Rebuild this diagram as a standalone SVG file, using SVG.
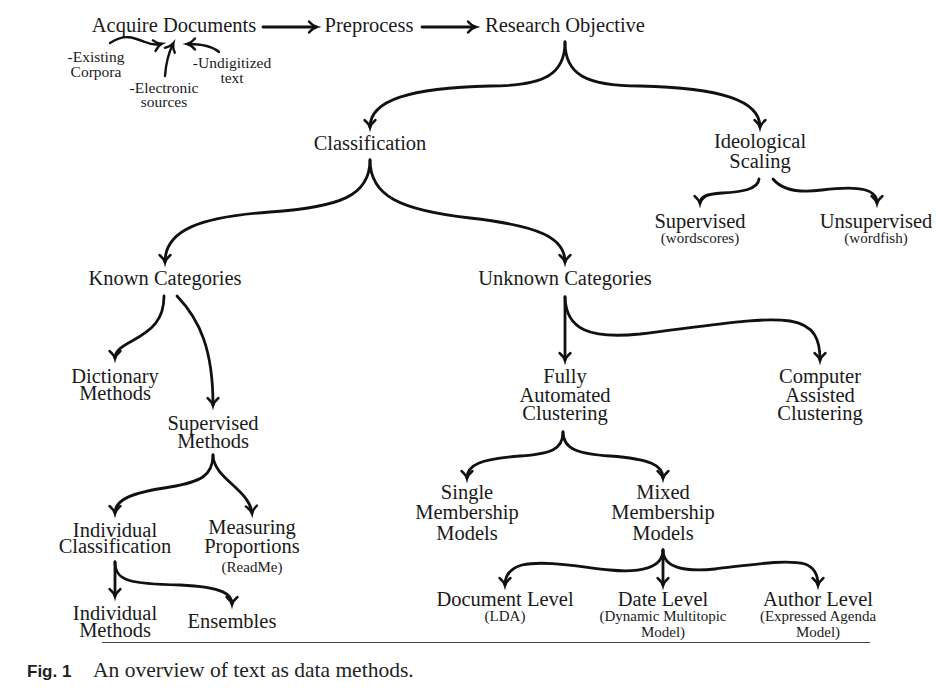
<svg xmlns="http://www.w3.org/2000/svg" width="936" height="700" viewBox="0 0 936 700">
<style>
.t{font-family:"Liberation Serif","Times New Roman",serif;font-size:20.5px;fill:#1a1a1a;text-anchor:middle}
.s{font-family:"Liberation Serif","Times New Roman",serif;font-size:15px;fill:#1a1a1a;text-anchor:middle}
.c{fill:none;stroke:#111;stroke-width:2.8;stroke-linecap:round;marker-end:url(#ah)}
.c2{fill:none;stroke:#111;stroke-width:2.4;stroke-linecap:round;marker-end:url(#ah)}
</style>
<defs>
<marker id="ah" markerUnits="userSpaceOnUse" markerWidth="16" markerHeight="16" viewBox="-10 -8 14 16" refX="0" refY="0" orient="auto" overflow="visible">
<path d="M-7,-5.5 C-4,-2 -1.5,-0.6 0.8,0 C-1.5,0.6 -4,2 -7,5.5" fill="none" stroke="#111" stroke-width="2.4" stroke-linecap="round"/>
</marker>
</defs>
<rect width="936" height="700" fill="#fff"/>
<g id="connectors">
<path class="c" d="M263,27 H316"/>
<path class="c" d="M422,27 H475"/>
<path class="c2" d="M110,43 C125,33 135,38 145,42 C152,45 157,45 161,44"/>
<path class="c2" d="M165,76 C166,62 169,52 173,44"/>
<path class="c2" d="M219,52 C212,46 200,44 188,44"/>
<path class="c" d="M565,42 C565,74 545,86 490,86 C410,88 370,100 370,127"/>
<path class="c" d="M565,42 C565,74 585,86 640,86 C720,88 760,100 760,127"/>
<path class="c" d="M370,160 C370,196 340,207 270,212 C200,217 165,230 165,262"/>
<path class="c" d="M370,160 C370,196 400,210 470,218 C540,226 565,238 565,262"/>
<path class="c" d="M759,179 C758,190 740,192 722,193 C706,194 700,197 700,203"/>
<path class="c" d="M773,179 C782,190 800,193 822,190 C862,185 877,190 877,203"/>
<path class="c" d="M164,296 C164,320 152,330 132,341 C119,348 115,352 115,358"/>
<path class="c" d="M177,296 C200,320 213,350 213,405"/>
<path class="c" d="M213,455 C213,476 200,482 170,487 C130,493 115,500 115,513"/>
<path class="c" d="M213,455 C213,478 250,490 252,513"/>
<path class="c" d="M115,562 V596"/>
<path class="c" d="M115,562 C115,581 130,584 180,585 C225,587 232,595 232,604"/>
<path class="c" d="M565,297 V360"/>
<path class="c" d="M565,297 C566,330 590,339 640,334 C720,324 760,317 790,321 C815,325 820,340 820,360"/>
<path class="c" d="M563,432 C563,450 550,454 520,456 C480,459 467,465 467,478"/>
<path class="c" d="M563,432 C563,450 580,454 610,456 C650,459 663,465 663,478"/>
<path class="c" d="M663,550 C663,568 640,573 610,570 C580,567 545,560 522,565 C508,569 505,577 505,585"/>
<path class="c" d="M663,550 V585"/>
<path class="c" d="M663,550 C663,568 685,572 715,569 C750,565 785,559 805,564 C816,568 818,577 818,585"/>
</g>
<g id="acquire"><text class="t" x="174" y="32">Acquire Documents</text></g>
<g id="existing"><text class="s" x="96" y="62" style="font-size:15.5px">-Existing</text><text class="s" x="96" y="77" style="font-size:15.5px">Corpora</text></g>
<g id="electronic"><text class="s" x="164" y="93" style="font-size:15.5px">-Electronic</text><text class="s" x="164" y="107" style="font-size:15.5px">sources</text></g>
<g id="undigitized"><text class="s" x="232" y="68" style="font-size:15.5px">-Undigitized</text><text class="s" x="232" y="83" style="font-size:15.5px">text</text></g>
<g id="preprocess"><text class="t" x="369" y="32">Preprocess</text></g>
<g id="research"><text class="t" x="565" y="32">Research Objective</text></g>
<g id="classification"><text class="t" x="370" y="150">Classification</text></g>
<g id="ideological"><text class="t" x="760" y="148">Ideological</text><text class="t" x="760" y="168">Scaling</text></g>
<g id="supervised-scaling"><text class="t" x="700" y="228">Supervised</text><text class="s" x="700" y="243">(wordscores)</text></g>
<g id="unsupervised"><text class="t" x="876" y="228">Unsupervised</text><text class="s" x="876" y="243">(wordfish)</text></g>
<g id="known"><text class="t" x="165" y="285">Known Categories</text></g>
<g id="unknown"><text class="t" x="565" y="285">Unknown Categories</text></g>
<g id="dictionary"><text class="t" x="115" y="383">Dictionary</text><text class="t" x="115" y="400">Methods</text></g>
<g id="supervised-methods"><text class="t" x="213" y="430">Supervised</text><text class="t" x="213" y="448">Methods</text></g>
<g id="fully"><text class="t" x="565" y="383">Fully</text><text class="t" x="565" y="402">Automated</text><text class="t" x="565" y="420">Clustering</text></g>
<g id="computer"><text class="t" x="820" y="383">Computer</text><text class="t" x="820" y="402">Assisted</text><text class="t" x="820" y="420">Clustering</text></g>
<g id="individual-classification"><text class="t" x="115" y="537">Individual</text><text class="t" x="115" y="553">Classification</text></g>
<g id="measuring"><text class="t" x="252" y="534">Measuring</text><text class="t" x="252" y="553">Proportions</text><text class="s" x="252" y="572">(ReadMe)</text></g>
<g id="individual-methods"><text class="t" x="115" y="620">Individual</text><text class="t" x="115" y="637">Methods</text></g>
<g id="ensembles"><text class="t" x="232" y="628">Ensembles</text></g>
<g id="single"><text class="t" x="467" y="499">Single</text><text class="t" x="467" y="519">Membership</text><text class="t" x="467" y="540">Models</text></g>
<g id="mixed"><text class="t" x="663" y="499">Mixed</text><text class="t" x="663" y="519">Membership</text><text class="t" x="663" y="540">Models</text></g>
<g id="document"><text class="t" x="505" y="606">Document Level</text><text class="s" x="505" y="621">(LDA)</text></g>
<g id="date"><text class="t" x="663" y="606">Date Level</text><text class="s" x="663" y="621">(Dynamic Multitopic</text><text class="s" x="663" y="637">Model)</text></g>
<g id="author"><text class="t" x="818" y="606">Author Level</text><text class="s" x="818" y="621">(Expressed Agenda</text><text class="s" x="818" y="637">Model)</text></g>
<line x1="102" y1="642.5" x2="870" y2="642.5" stroke="#444" stroke-width="1.2"/>
<g id="caption">
<text x="27" y="677" style="font-family:'Liberation Sans',Arial,sans-serif;font-weight:bold;font-size:17px;fill:#222">Fig. 1</text>
<text x="93" y="677" style="font-family:'Liberation Serif','Times New Roman',serif;font-size:21.5px;fill:#222">An overview of text as data methods.</text>
</g>
</svg>
